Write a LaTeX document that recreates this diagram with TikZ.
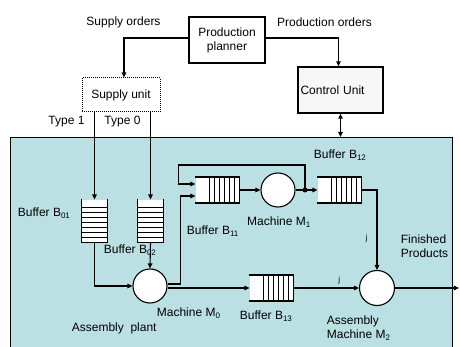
\documentclass[tikz,border=0pt]{standalone}
\usepackage{fontspec}
\setmainfont{Liberation Sans}
\usetikzlibrary{arrows.meta,positioning}
\definecolor{plantfill}{RGB}{187,224,227}
\definecolor{ctrlfill}{RGB}{247,247,247}

\begin{document}
\begin{tikzpicture}[x=1pt, y=-1pt, line width=1.1pt, >={Triangle[length=5pt,width=4.5pt]},
  font=\fontsize{12}{14}\selectfont,
  box/.style = {draw, line width=1.3pt, minimum width=76pt, minimum height=46pt, align=center},
  machine/.style = {draw, circle, fill=white, minimum size=34pt, inner sep=0pt},
  hqueue/.style = {fill=white, minimum width=43pt, minimum height=25pt, inner sep=0pt},
  vqueue/.style = {fill=white, minimum width=25pt, minimum height=42pt, inner sep=0pt},
  small/.style = {font=\fontsize{8}{9}\selectfont, inner sep=0pt}]

      \useasboundingbox (0,0) rectangle (460,347);

      % plant area
      \node[draw, fill=plantfill, line width=1.2pt, minimum width=442pt, minimum height=240pt,
            anchor=north west] (PLANT) at (10,137) {};

      % planning level
      \node[box] (PLANNER) at (227,40) {Production\\planner};
      \node[draw, densely dotted, line width=1pt, minimum width=78pt, minimum height=34pt] (SUPPLY) at (121,95) {Supply unit};
      \node[box, fill=ctrlfill, minimum width=85pt, text width=80pt, align=left, inner xsep=2.5pt] (CTRL) at (340.5,90) {Control Unit};

      \node (SO) at (123.5,22) {Supply orders};
      \node (PO) at (324.5,22) {Production orders};
      \node (T1) at (66.5,122) {Type 1};
      \node (T0) at (122.5,122) {Type 0};

      % buffers and machines
      \node[vqueue] (B_01) at (94.5,221) {};
      \node[vqueue] (B_02) at (150.5,221) {};
      \node[machine] (M_0) at (150,286) {};
      \node[hqueue] (B_11) at (217.5,190) {};
      \node[machine] (M_1) at (278,190) {};
      \node[circle, fill, inner sep=0pt, minimum size=5pt] (DOT) at (305,190) {};
      \node[hqueue] (B_12) at (339.5,190) {};
      \node[hqueue] (B_13) at (271.5,288) {};
      \node[machine, minimum size=35pt] (M_2) at (377,288) {};
      \coordinate (OUT) at (459,288);

      \foreach \b in {B_01, B_02} {
        \draw[line width=1.2pt] (\b.north west) -- (\b.south west) -- (\b.south east) -- (\b.north east);
        \foreach \k in {1, ..., 7}
          \draw[semithick] ([yshift=\k*5pt]\b.south west) -- ([yshift=\k*5pt]\b.south east);
      }

      \foreach \b in {B_11, B_12, B_13} {
        \draw[line width=1.2pt] (\b.north west) -- (\b.north east) -- (\b.south east) -- (\b.south west);
        \foreach \k in {1, ..., 6}
          \draw[semithick] ([xshift=-\k*5pt]\b.north east) -- ([xshift=-\k*5pt]\b.south east);
      }

      % labels
      \node[anchor=west] (L_B01) at (14,213) {Buffer B\textsubscript{01}};
      \node[anchor=west] (L_B02) at (100,250) {Buffer B\textsubscript{02}};
      \node[anchor=west] (L_B11) at (183,231) {Buffer B\textsubscript{11}};
      \node[anchor=west] (L_B12) at (310,155) {Buffer B\textsubscript{12}};
      \node[anchor=west] (L_B13) at (236,316) {Buffer B\textsubscript{13}};
      \node (L_M1) at (279,222) {Machine M\textsubscript{1}};
      \node[anchor=west] (L_M0) at (153,313) {Machine M\textsubscript{0}};
      \node[anchor=west, align=left] (L_M2) at (323,328) {Assembly\\Machine M\textsubscript{2}};
      \node[anchor=west, align=left] (L_FP) at (397,246) {Finished\\Products};
      \node[anchor=west] (L_AP) at (68,328) {Assembly\ \ plant};

      % connectors
      \draw[->] ([yshift=2pt]PLANNER.west) -| ([xshift=3pt]SUPPLY.north);
      \draw[->] ([yshift=2pt]PLANNER.east) -| ([xshift=-2pt]CTRL.north);
      \draw[<->] (CTRL.south) -- (CTRL.south |- PLANT.north);

      \draw[->] (B_01.north |- SUPPLY.south) -- (B_01.north);
      \draw[->] (B_02.north |- SUPPLY.south) -- (B_02.north);

      \draw[->] (B_01.south) |- (M_0.west);
      \draw[->] (B_02.south) -- (M_0.north);

      \draw[->] ([yshift=2pt]M_0.east) -- ++(13,0) |- ([yshift=-6pt]B_11.west);
      \draw[->] (M_0.east |- B_13.west) -- (B_13.west);

      \draw[->] (B_11.east) -- (M_1.west);
      \draw (M_1.east) -- (DOT.center);
      \draw[->] (DOT.center) -- (B_12.west);
      \draw[->] (DOT.center) -- ++(0,-25) -| ([xshift=-17pt,yshift=6pt]B_11.west) -- ([yshift=6pt]B_11.west);

      \draw[->] (B_12.east) -| node[small, pos=0.8, left=9pt] {j} (M_2.north);
      \draw[->] (B_13.east) -- node[small, pos=0.7, above=3pt] {j} (M_2.west);
      \draw[->] (M_2.east) -- (OUT);

\end{tikzpicture}
\end{document}
